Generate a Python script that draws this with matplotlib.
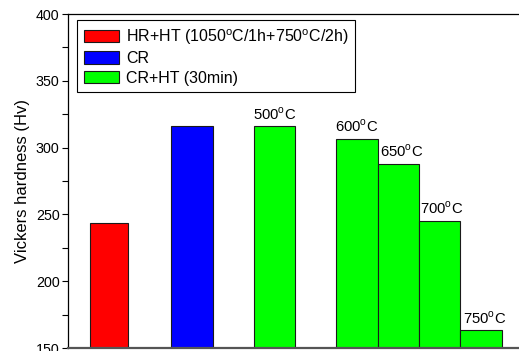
import matplotlib.pyplot as plt
import numpy as np

plt.rcParams['font.family'] = ['Liberation Sans', 'DejaVu Sans']
plt.rcParams['mathtext.fontset'] = 'custom'
plt.rcParams['mathtext.rm'] = 'Liberation Sans'

deg = r'$^{\rm o}$C'

# bar positions (tick units) and hardness values
x_pos = [1, 2, 3, 4, 4.5, 5, 5.5]
hardness = [243.6, 316, 316, 306.5, 288, 245.3, 163.1]
widths = [0.46, 0.5, 0.5, 0.5, 0.5, 0.5, 0.5]
colors = ['#ff0000', '#0000ff', '#00ff00', '#00ff00', '#00ff00', '#00ff00', '#00ff00']
labels = ['', '', '500' + deg, '600' + deg, '650' + deg, '700' + deg, '750' + deg]
legend_names = ['HR+HT (1050' + deg + '/1h+750' + deg + '/2h)', 'CR', 'CR+HT (30min)']


def main():
    fig = plt.figure(figsize=(5.19, 3.51), dpi=100)
    ax = fig.add_axes([68 / 519, 3 / 351, 495.6 / 519, 334 / 351])

    bars = ax.bar(x_pos, hardness, width=widths, color=colors,
                  edgecolor='#1a1a1a', linewidth=0.8, zorder=2)

    for b, lab, xo in zip(bars, labels, [0, 0, 0, 0, 0.04, 0.02, 0.04]):
        if lab:
            ax.text(b.get_x() + b.get_width() / 2 + xo, b.get_height() + 3, lab,
                    ha='center', va='bottom', fontsize=10.7)

    ax.legend([bars[0], bars[1], bars[2]], legend_names, loc='upper left',
              bbox_to_anchor=(0.018, 0.981), fontsize=11.5, frameon=True,
              fancybox=False, edgecolor='black', framealpha=1,
              handlelength=2.2, handleheight=0.8, handletextpad=0.45,
              labelspacing=0.28, borderpad=0.42, borderaxespad=0)
    ax.get_legend().get_frame().set_linewidth(0.8)

    ax.set_xlim(0.5, 6.5)
    ax.set_ylim(150, 400)
    ax.set_yticks([150, 200, 250, 300, 350, 400])
    ax.set_yticks(np.arange(175, 400, 50), minor=True)
    ax.set_xticks([1, 2, 3, 4, 5, 6])
    ax.set_xticklabels([])
    ax.tick_params(axis='y', direction='out', length=4, width=0.8, labelsize=10.3, pad=2)
    ax.tick_params(axis='y', which='minor', direction='out', length=4, width=0.8)
    ax.tick_params(axis='x', direction='in', length=7, width=0.8)
    ax.set_ylabel('Vickers hardness (Hv)', fontsize=12, labelpad=4)

    for s in ['top', 'left', 'right']:
        ax.spines[s].set_linewidth(0.9)
    ax.spines['bottom'].set_color('#555555')
    ax.spines['bottom'].set_linewidth(1.6)

    fig.savefig('out.png', dpi=100)


if __name__ == '__main__':
    main()
